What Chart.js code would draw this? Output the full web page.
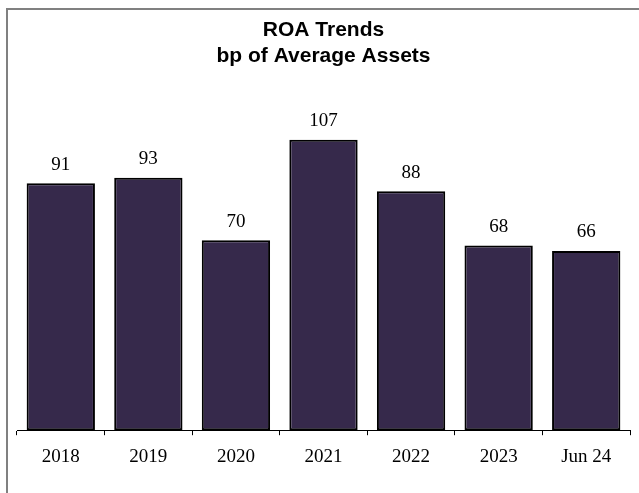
<!DOCTYPE html>
<html>
<head>
<meta charset="utf-8">
<script src="https://cdn.jsdelivr.net/npm/chart.js@4"></script>
<style>
  html, body { margin: 0; padding: 0; background: #fff; }
  #wrap { position: relative; width: 639px; height: 493px; }
  #frame {
    position: absolute; left: 6px; top: 8px; right: 0; bottom: 0;
    border-top: 2px solid #808080; border-left: 2px solid #808080;
    pointer-events: none;
  }
</style>
</head>
<body>
<div id="wrap">
  <canvas id="roaChart" width="639" height="493"></canvas>
  <div id="frame"></div>
</div>
<script>
const categories = ['2018', '2019', '2020', '2021', '2022', '2023', 'Jun 24'];
const roaValues = [91, 93, 70, 107, 88, 68, 66];

// value labels above each bar
const valueLabels = {
  id: 'valueLabels',
  afterDatasetsDraw(chart) {
    const ctx = chart.ctx;
    const meta = chart.getDatasetMeta(0);
    ctx.save();
    ctx.font = '19px "Liberation Serif"';
    ctx.fillStyle = '#000';
    ctx.textAlign = 'center';
    ctx.textBaseline = 'bottom';
    meta.data.forEach((bar, i) => {
      ctx.fillText(String(roaValues[i]), bar.x, bar.y - 9);
    });
    ctx.restore();
  }
};

const ctx = document.getElementById('roaChart').getContext('2d');
new Chart(ctx, {
  type: 'bar',
  data: {
    labels: categories,
    datasets: [{
      label: 'ROA',
      data: roaValues,
      backgroundColor: '#36294b',
      borderColor: '#000',
      borderWidth: 2,
      borderSkipped: false,
      barPercentage: 0.78,
      categoryPercentage: 1
    }]
  },
  options: {
    responsive: false,
    animation: false,
    layout: { padding: { left: 17, right: 9, top: 0, bottom: 15 } },
    plugins: {
      legend: { display: false },
      tooltip: { enabled: false },
      title: {
        display: true,
        text: ['ROA Trends', 'bp of Average Assets'],
        color: '#000',
        font: { family: '"Liberation Sans", Arial', size: 21, weight: 'bold', lineHeight: 1.2 },
        padding: { top: 18, bottom: 36 }
      }
    },
    scales: {
      x: {
        offset: true,
        grid: {
          offset: true,
          drawOnChartArea: false,
          drawTicks: true,
          tickLength: 5,
          color: '#000',
          lineWidth: 1
        },
        border: { display: true, color: '#000', width: 1 },
        ticks: {
          color: '#000',
          font: { family: '"Liberation Serif"', size: 19 },
          padding: 10
        }
      },
      y: {
        display: false,
        min: 0,
        max: 120
      }
    }
  },
  plugins: [valueLabels]
});
</script>
</body>
</html>
